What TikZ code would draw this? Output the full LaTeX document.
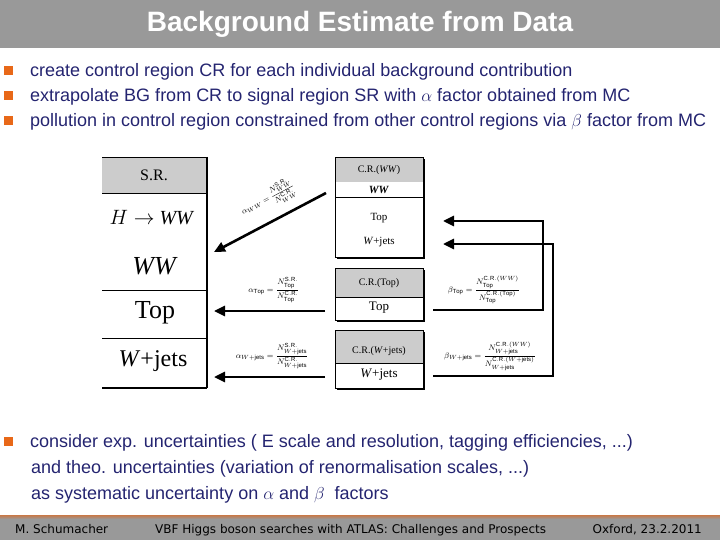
\documentclass[tikz,border=0pt]{standalone}
\usepackage{amsmath}
\usepackage{fontspec}
\setmainfont{Liberation Sans}
\newfontfamily\timesf{Liberation Serif}
\newfontfamily\footf{DejaVu Sans}
\usetikzlibrary{
  positioning,
  calc,
  arrows.meta,
  }
\definecolor{slidegray}{RGB}{153,153,153}
\definecolor{cellgray}{RGB}{204,204,204}
\definecolor{itemblue}{RGB}{36,36,112}
\definecolor{itemorange}{RGB}{232,104,24}
\definecolor{footline}{RGB}{200,120,70}

\begin{document}
\begin{tikzpicture}[x=1pt, y=-1pt,
  bullet/.style={fill=itemorange, minimum size=9pt, inner sep=0pt},
  item/.style={anchor=base west, inner sep=0pt, text=itemblue, font=\fontsize{18}{21}\selectfont},
  srcell/.style={inner sep=0pt, font=\timesf\fontsize{26}{28}\selectfont},
  crcell/.style={inner sep=0pt, font=\timesf\fontsize{11}{13}\selectfont},
  bigarrow/.style={line width=2.6pt, -{Triangle[length=11pt,width=10pt]}},
  ratio/.style={inner sep=0pt, font=\fontsize{8.5}{10}\selectfont},
  foot/.style={inner sep=0pt, font=\footf\fontsize{12}{14}\selectfont}]

  \useasboundingbox (0,0) rectangle (720,540);
  \fill[slidegray] (0,0) rectangle (720,48);
  \node[text=white, font=\bfseries\fontsize{28}{32}\selectfont] (title) at (360,24) {Background Estimate from Data};

  \node[bullet] (n1) at (8,71) {};
  \node[item] (t1) at (30,77) {create control region CR for each individual background contribution};
  \node[bullet] (n2) at (8,96) {};
  \node[item] (t2) at (30,102) {extrapolate BG from CR to signal region SR with $\alpha$ factor obtained from MC};
  \node[bullet] (n3) at (8,121) {};
  \node[item] (t3) at (30,127) {pollution in control region constrained from other control regions via $\beta$ factor from MC};

  \fill[cellgray] (102,157) rectangle (207,193);
  \foreach \y in {157,193,290,338}
    \draw[line width=0.6pt] (102,\y) -- (207,\y);
  \draw[line width=1.2pt] (102,388) -- (207,388);
  \draw[line width=1.5pt] (207,157) -- (207,388);
  \node[srcell, font=\timesf\fontsize{16}{18}\selectfont] (srhead) at (154,175) {S.R.};
  \node[srcell, font=\timesf\fontsize{20}{22}\selectfont] (srhww) at (152,218) {$H\rightarrow$ \textit{WW}};
  \node[srcell] (srww) at (155,266) {\textit{WW}};
  \node[srcell] (srtop) at (155,313) {Top};
  \node[srcell, font=\timesf\fontsize{24}{26}\selectfont] (srwj) at (153,361) {\textit{W}+jets};

  \foreach \t/\h/\b in {157/182/257, 268/297/320, 330/363/388} {
    \fill (337,\t+2) rectangle (425,\b+2);
    \fill[white] (335,\t) rectangle (423,\b);
    \fill[cellgray] (335,\t) rectangle (423,\h);
    \draw[line width=0.8pt] (335,\t) rectangle (423,\b);
  }
  \draw[line width=0.6pt] (335,197) -- (423,197);
  \draw[line width=0.6pt] (335,297) -- (423,297);
  \draw[line width=0.6pt] (335,363) -- (423,363);
  \node[crcell, font=\timesf\fontsize{10}{12}\selectfont] (crwwhead) at (379,170) {C.R.(\textit{WW})};
  \node[crcell] (crwwww) at (379,190) {\textbf{\textit{WW}}};
  \node[crcell] (crwwtop) at (379,218) {Top};
  \node[crcell] (crwwwj) at (379,242) {\textit{W}+jets};
  \node[crcell, font=\timesf\fontsize{10}{12}\selectfont] (crtophead) at (379,283) {C.R.(Top)};
  \node[crcell, font=\timesf\fontsize{13}{15}\selectfont] (crtoptop) at (379,308) {Top};
  \node[crcell, font=\timesf\fontsize{10}{12}\selectfont] (crwjhead) at (379,351) {C.R.(\textit{W}+jets)};
  \node[crcell, font=\timesf\fontsize{13}{15}\selectfont] (crwjwj) at (379,375) {\textit{W}+jets};

  \coordinate (aww) at (326,193);
  \coordinate (atop) at (325,311);
  \coordinate (awj) at (325,377);
  \coordinate (btop) at (433,310);
  \coordinate (bwj) at (433,376);
  \coordinate (tipww) at (214,252);
  \coordinate (tiptop) at (214,311);
  \coordinate (tipwj) at (214,377);
  \coordinate (tipctop) at (443,221);
  \coordinate (tipcwj) at (443,244);
  \draw[bigarrow] (aww) -- (tipww);
  \draw[bigarrow] (atop) -- (tiptop);
  \draw[bigarrow] (awj) -- (tipwj);
  \draw[bigarrow] (btop) -- ++(110,0) |- (tipctop);
  \draw[bigarrow] (bwj) -- ++(120,0) |- (tipcwj);

  \node[ratio, rotate=28] (lww) at (268,199) {$\alpha_{WW}=\dfrac{N^{\rm S.R.}_{WW}}{N^{\rm C.R.}_{WW}}$};
  \node[ratio] (ltop) at (274,290) {$\alpha_{\rm Top}=\dfrac{N^{\rm S.R.}_{\rm Top}}{N^{\rm C.R.}_{\rm Top}}$};
  \node[ratio] (lwj) at (272,356) {$\alpha_{W+{\rm jets}}=\dfrac{N^{\rm S.R.}_{W+{\rm jets}}}{N^{\rm C.R.}_{W+{\rm jets}}}$};
  \node[ratio] (ltopb) at (484,290) {$\beta_{\rm Top}=\dfrac{N^{{\rm C.R.}(WW)}_{\rm Top}}{N^{\rm C.R.(Top)}_{\rm Top}}$};
  \node[ratio] (lwjb) at (490,356) {$\beta_{W+{\rm jets}}=\dfrac{N^{{\rm C.R.}(WW)}_{W+{\rm jets}}}{N^{{\rm C.R.}(W+{\rm jets})}_{W+{\rm jets}}}$};

  \node[bullet] (n4) at (8,441) {};
  \node[item] (t4) at (30,447) {consider exp. uncertainties ( E scale and resolution, tagging efficiencies, ...)};
  \node[item] (t5) at (31,473) {and theo. uncertainties (variation of renormalisation scales, ...)};
  \node[item] (t6) at (31,499) {as systematic uncertainty on $\alpha$ and $\beta$\ \ factors};

  \shade[top color=footline, bottom color=slidegray] (0,515) rectangle (720,519);
  \fill[slidegray] (0,519) rectangle (720,540);
  \node[foot, anchor=base west] (f1) at (15,533) {M. Schumacher};
  \node[foot, anchor=base west] (f2) at (155,533) {VBF Higgs boson searches with ATLAS: Challenges and Prospects};
  \node[foot, anchor=base east] (f3) at (702,533) {Oxford, 23.2.2011};
\end{tikzpicture}
\end{document}
